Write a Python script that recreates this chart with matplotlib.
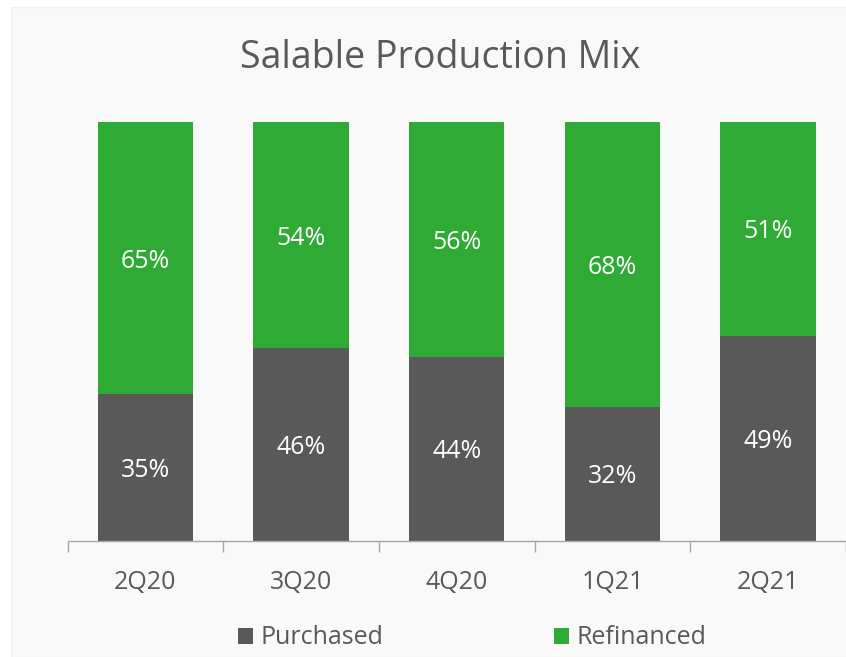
import matplotlib.pyplot as plt
from matplotlib.patches import Rectangle
import numpy as np

# === Data ===
quarters = ['2Q20', '3Q20', '4Q20', '1Q21', '2Q21']
purchased = [35, 46, 44, 32, 49]
refinanced = [65, 54, 56, 68, 51]

# === Style ===
gray = '#595959'
green = '#2EAA35'
text_color = '#595959'
plt.rcParams['font.family'] = ['Open Sans', 'DejaVu Sans']

W, H = 846, 657
fig = plt.figure(figsize=(W / 100, H / 100), dpi=100, facecolor='white')
fig.patches.append(Rectangle((11 / W, 0), 1, (H - 7) / H, transform=fig.transFigure,
                             facecolor='#F9F9F9', edgecolor='#EFEFEF', lw=0.8, zorder=-10))

# one category = 157 px, first tick at x=67.5
ax = fig.add_axes([67.5 / W, (H - 541) / H, (W - 67.5) / W, 419 / H])
ax.set_facecolor('none')

x = np.arange(len(quarters))
ax.bar(x, purchased, width=0.613, color=gray, label='Purchased')
ax.bar(x, refinanced, width=0.613, bottom=purchased, color=green, label='Refinanced')

for i in range(len(quarters)):
    ax.text(x[i], purchased[i] / 2, f'{purchased[i]}%', ha='center', va='center_baseline',
            color='white', fontsize=18)
    ax.text(x[i], purchased[i] + refinanced[i] / 2, f'{refinanced[i]}%', ha='center',
            va='center_baseline', color='white', fontsize=18)

ax.set_xlim(-0.5, -0.5 + (W - 67.5) / 157)
ax.set_ylim(0, 100)
ax.set_yticks([])
for s in ['top', 'right', 'left']:
    ax.spines[s].set_visible(False)
ax.spines['bottom'].set_color('#A6A6A6')
ax.spines['bottom'].set_linewidth(1)

ax.set_xticks(x)
ax.set_xticklabels(quarters, fontsize=18, color=text_color)
ax.tick_params(axis='x', which='major', length=0, pad=21)
ax.set_xticks(np.arange(-0.5, len(quarters), 1), minor=True)
ax.tick_params(axis='x', which='minor', length=8, color='#A6A6A6', width=1)

fig.text((W / 2 + 17) / W, 1 - 58 / H, 'Salable Production Mix', ha='center', va='center',
         fontsize=27, color=text_color)

handles, labels = ax.get_legend_handles_labels()
fig.legend(handles, labels, loc='center', bbox_to_anchor=(472 / W, 1 - 638 / H), ncol=2,
           frameon=False, fontsize=18, labelcolor=text_color, handlelength=0.6,
           handleheight=0.6, handletextpad=0.3, columnspacing=6.8)

fig.savefig('out.png', dpi=100, facecolor='white')
